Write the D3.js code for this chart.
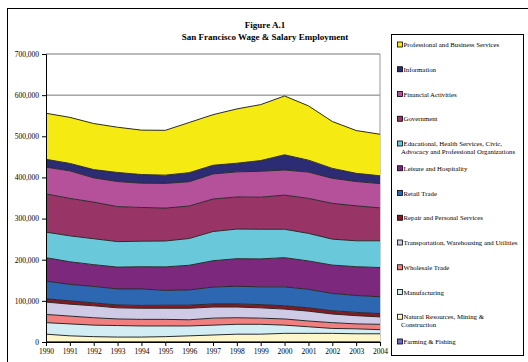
<!DOCTYPE html>
<html>
<head>
<meta charset="utf-8">
<script src="https://cdn.jsdelivr.net/npm/d3@7"></script>
<style>
  body { margin: 0; background: #fff; }
  text { font-family: "Liberation Serif", "Times New Roman", serif; }
</style>
</head>
<body>
<div id="chart"></div>
<script>
// Data (jobs)
const years = [1990, 1991, 1992, 1993, 1994, 1995, 1996, 1997, 1998, 1999, 2000, 2001, 2002, 2003, 2004];
const farming = [500, 500, 500, 500, 500, 500, 500, 500, 500, 500, 500, 500, 500, 500, 500];
const natural = [18500, 14500, 12500, 11500, 11500, 12500, 14500, 16500, 18500, 18500, 20500, 20500, 20500, 19500, 19500];
const manufacturing = [28000, 29000, 28000, 28000, 27000, 26000, 24000, 24000, 24000, 24000, 20000, 16000, 12000, 12000, 10000];
const wholesale = [20000, 19000, 18000, 16000, 16000, 16000, 15000, 17000, 16000, 15000, 15000, 14000, 14000, 12000, 13000];
const transportation = [30000, 29000, 29000, 27000, 27000, 27000, 28000, 27000, 26000, 25000, 24000, 24000, 21000, 20000, 18000];
const repair = [8000, 8000, 7000, 7000, 7000, 7500, 7500, 7500, 7500, 8000, 8000, 8000, 8000, 8000, 8000];
const retail = [43000, 40000, 40000, 39000, 40000, 36000, 37000, 41000, 43000, 43000, 46000, 45000, 42000, 41000, 41000];
const leisure = [57000, 55000, 53000, 53000, 54000, 57000, 60000, 64000, 67000, 68000, 71000, 69000, 69000, 70000, 71000];
const educational = [62000, 63000, 63000, 62000, 62000, 63000, 65000, 71000, 72000, 72000, 69000, 67000, 63000, 63000, 65000];
const government = [93000, 91000, 89000, 85000, 82000, 80000, 79000, 79000, 78000, 78000, 83000, 85000, 87000, 85000, 80000];
const financial = [65000, 67000, 59000, 61000, 59000, 60000, 59000, 61000, 61000, 63000, 61000, 64000, 61000, 59000, 59000];
const information = [19000, 18000, 20000, 22000, 21000, 20000, 22000, 21000, 21000, 26000, 37000, 29000, 24000, 20000, 19000];
const professional = [112000, 112000, 112000, 110000, 108000, 109000, 122000, 123000, 132000, 136000, 143000, 132000, 114000, 104000, 101000];

const yTicks = [0, 100000, 200000, 300000, 400000, 500000, 600000, 700000];

// series, bottom of the stack first
const series = [
  { key: "Farming & Fishing", values: farming, color: "#6b6bc8" },
  { key: "Natural Resources, Mining & Construction", values: natural, color: "#fdf6cb" },
  { key: "Manufacturing", values: manufacturing, color: "#d3edf4" },
  { key: "Wholesale Trade", values: wholesale, color: "#f27f80" },
  { key: "Transportation, Warehousing and Utilities", values: transportation, color: "#cfcae6" },
  { key: "Repair and Personal Services", values: repair, color: "#8a1820" },
  { key: "Retail Trade", values: retail, color: "#2e67b1" },
  { key: "Leisure and Hospitality", values: leisure, color: "#7b287d" },
  { key: "Educational, Health Services, Civic, Advocacy and Professional Organizations", values: educational, color: "#69c9da" },
  { key: "Government", values: government, color: "#993466" },
  { key: "Financial Activities", values: financial, color: "#b5519b" },
  { key: "Information", values: information, color: "#2b2c73" },
  { key: "Professional and Business Services", values: professional, color: "#f5ea12" }
];

// legend text split over lines
const legendLines = {
  "Educational, Health Services, Civic, Advocacy and Professional Organizations":
    ["Educational, Health Services, Civic,", "Advocacy and Professional Organizations"],
  "Natural Resources, Mining & Construction": ["Natural Resources, Mining &", "Construction"]
};

const width = 528, height = 362;
const plot = { left: 46, right: 380, top: 54, bottom: 342 };

const svg = d3.select("#chart").append("svg")
  .attr("width", width)
  .attr("height", height);

// outer frame
svg.append("rect")
  .attr("x", 7.5).attr("y", 8.5)
  .attr("width", 540).attr("height", 370)
  .attr("fill", "none").attr("stroke", "#000").attr("stroke-width", 1);

// table for the stack
const table = years.map((yr, i) => {
  const row = { year: yr };
  series.forEach(s => row[s.key] = s.values[i]);
  return row;
});

const stack = d3.stack().keys(series.map(s => s.key));
const layers = stack(table);

const x = d3.scaleLinear().domain([1990, 2004]).range([plot.left, plot.right]);
const y = d3.scaleLinear().domain([0, 700000]).range([plot.bottom, plot.top]);

// gridlines
svg.append("g")
  .selectAll("line")
  .data(yTicks.slice(1))
  .enter().append("line")
  .attr("x1", plot.left).attr("x2", plot.right)
  .attr("y1", d => y(d)).attr("y2", d => y(d))
  .attr("stroke", "#777").attr("stroke-width", 1);

// right border of plot area
svg.append("line")
  .attr("x1", plot.right).attr("x2", plot.right)
  .attr("y1", plot.top).attr("y2", plot.bottom)
  .attr("stroke", "#999");

const area = d3.area()
  .x(d => x(d.data.year))
  .y0(d => y(d[0]))
  .y1(d => y(d[1]));

const topLine = d3.line()
  .x(d => x(d.data.year))
  .y(d => y(d[1]));

const colorOf = k => series.find(s => s.key === k).color;

svg.append("g").selectAll("path")
  .data(layers)
  .enter().append("path")
  .attr("d", area)
  .attr("fill", d => colorOf(d.key));

svg.append("g").selectAll("path")
  .data(layers)
  .enter().append("path")
  .attr("d", topLine)
  .attr("fill", "none")
  .attr("stroke", "#2a2a2a")
  .attr("stroke-width", 1)
  .attr("stroke-linejoin", "round");

// axes
const yAxis = svg.append("g")
  .attr("transform", `translate(${plot.left},0)`)
  .call(d3.axisLeft(y).tickValues(yTicks).tickFormat(d3.format(",")).tickSize(4).tickPadding(3));

const xAxis = svg.append("g")
  .attr("transform", `translate(0,${plot.bottom})`)
  .call(d3.axisBottom(x).tickValues(years).tickFormat(d => d).tickSize(4).tickPadding(3));

[yAxis, xAxis].forEach(a => {
  a.select(".domain").attr("stroke", "#000");
  a.selectAll(".tick line").attr("stroke", "#000");
  a.selectAll("text")
    .attr("fill", "#000")
    .style("font-family", "Liberation Serif, serif")
    .style("font-size", "7.5px");
});

// title
svg.append("text")
  .attr("x", 265).attr("y", 28)
  .attr("text-anchor", "middle")
  .style("font-size", "9px").style("font-weight", "bold")
  .text("Figure A.1");

svg.append("text")
  .attr("x", 265).attr("y", 40)
  .attr("text-anchor", "middle")
  .style("font-size", "9px").style("font-weight", "bold")
  .text("San Francisco Wage & Salary Employment");

// legend
const legend = svg.append("g");
legend.append("rect")
  .attr("x", 391.5).attr("y", 34.5)
  .attr("width", 132).attr("height", 321)
  .attr("fill", "#fff").attr("stroke", "#000");

const legendItems = series.slice().reverse();
const item = legend.selectAll("g.item")
  .data(legendItems)
  .enter().append("g")
  .attr("class", "item")
  .attr("transform", (d, i) => `translate(0,${45 + i * 24.75})`);

item.append("rect")
  .attr("x", 397.5).attr("y", -3)
  .attr("width", 5).attr("height", 5)
  .attr("fill", d => d.color)
  .attr("stroke", "#000").attr("stroke-width", 0.8);

item.append("text")
  .style("font-size", "6.8px")
  .attr("fill", "#000")
  .each(function(d) {
    const lines = legendLines[d.key] || [d.key];
    const t = d3.select(this);
    lines.forEach((ln, j) => {
      t.append("tspan")
        .attr("x", j === 0 ? 403.5 : 401)
        .attr("y", 2 + j * 8)
        .text(ln);
    });
  });
</script>
</body>
</html>
